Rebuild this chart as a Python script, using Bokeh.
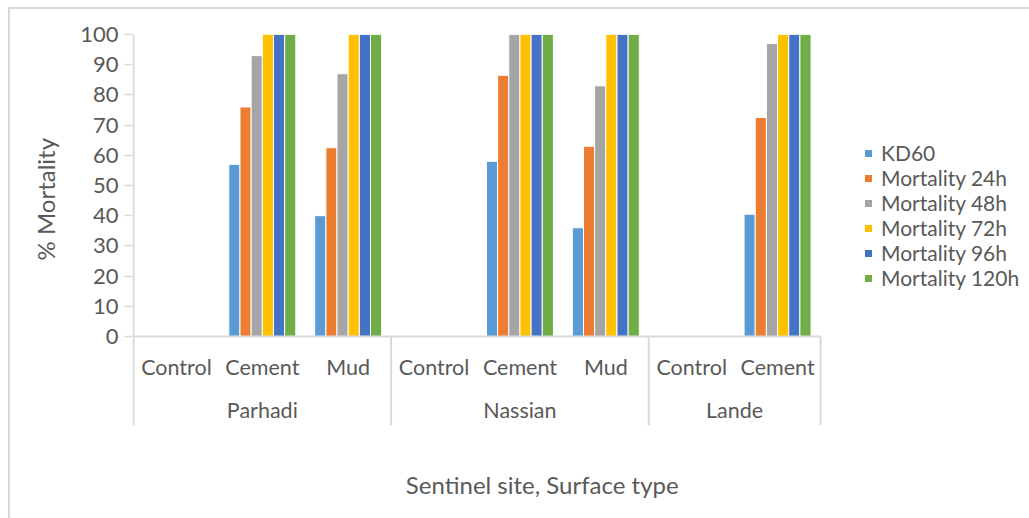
import math
from bokeh.plotting import figure
from bokeh.models import (ColumnDataSource, FixedTicker, Legend, LegendItem, Title,
                          Range1d)
from bokeh.layouts import column
from bokeh.core.properties import value
from bokeh.embed import file_html
from bokeh.resources import INLINE

# ---------------- data ----------------
sites = ["Parhadi", "Parhadi", "Parhadi", "Nassian", "Nassian", "Nassian", "Lande", "Lande"]
surfaces = ["Control", "Cement", "Mud", "Control", "Cement", "Mud", "Control", "Cement"]
site_names = ["Parhadi", "Nassian", "Lande"]
series_names = ["KD60", "Mortality 24h", "Mortality 48h", "Mortality 72h",
                "Mortality 96h", "Mortality 120h"]
kd60 = [0, 57, 40, 0, 58, 36, 0, 40.5]
mort24 = [0, 76, 62.5, 0, 86.5, 63, 0, 72.5]
mort48 = [0, 93, 87, 0, 100, 83, 0, 97]
mort72 = [0, 100, 100, 0, 100, 100, 0, 100]
mort96 = [0, 100, 100, 0, 100, 100, 0, 100]
mort120 = [0, 100, 100, 0, 100, 100, 0, 100]
y_ticks = [0, 10, 20, 30, 40, 50, 60, 70, 80, 90, 100]
x_title = "Sentinel site, Surface type"
y_title = "% Mortality"

series_values = [kd60, mort24, mort48, mort72, mort96, mort120]
colors = ["#5B9BD5", "#ED7D31", "#A5A5A5", "#FFC000", "#4472C4", "#70AD47"]

FONT = "Lato"
TXT = "#595959"
GRID = "#D9D9D9"

# layout (pixels, inside the bordered box)
W, H = 1019, 509
LEFT, TOP, RIGHT = 122, 25, 4
CAT_PX = 687           # pixel width of the category area
PX_PER_Y = 391 / 129.5  # vertical pixels per percentage point

n_cat = len(surfaces)
px_per_x = CAT_PX / n_cat
sep_bottom = -29.5                       # depth of the category label band
frame_w = W - LEFT - RIGHT
frame_h = H - TOP
x_start = -1 / px_per_x
x_end = x_start + frame_w / px_per_x
y_min = 100 - frame_h / PX_PER_Y

p = figure(width=W, height=H, output_backend="svg", toolbar_location=None,
           x_range=Range1d(x_start, x_end), y_range=Range1d(y_min, 100),
           min_border_left=LEFT, min_border_right=RIGHT, min_border_top=TOP,
           min_border_bottom=0, outline_line_color=None)
p.xgrid.visible = False
p.ygrid.visible = False
p.xaxis.visible = False

ya = p.yaxis[0]
ya.ticker = FixedTicker(ticks=y_ticks)
ya.minor_tick_line_color = None
ya.major_tick_in = 0
ya.major_tick_out = 8
ya.major_tick_line_color = GRID
ya.major_tick_line_width = 1.5
ya.axis_line_color = None
ya.major_label_text_font = FONT
ya.major_label_text_font_size = "22px"
ya.major_label_text_color = TXT
ya.major_label_standoff = 6

# bars
bar_w = 0.13
renderers = []
for j, (name, vals, col) in enumerate(zip(series_names, series_values, colors)):
    xs = [i + 0.5 + (j - 2.5) * bar_w for i in range(n_cat)]
    src = ColumnDataSource(dict(x=xs, top=vals))
    r = p.vbar(x="x", top="top", bottom=0, width=bar_w, source=src,
               fill_color=col, line_color="white", line_width=1)
    renderers.append(r)

# value axis line, category baseline and separators
p.segment(x0=[0], y0=[sep_bottom], x1=[0], y1=[100], line_color=GRID, line_width=2)
p.segment(x0=[0], y0=[0], x1=[n_cat], y1=[0], line_color=GRID, line_width=2)
bounds = []
for k in range(1, n_cat):
    if sites[k] != sites[k - 1]:
        bounds.append(k)
bounds.append(n_cat)
p.segment(x0=bounds, y0=[0] * len(bounds), x1=bounds, y1=[sep_bottom] * len(bounds),
          line_color=GRID, line_width=2)

# level-1 labels
p.text(x=[i + 0.5 for i in range(n_cat)], y=[-10] * n_cat, text=surfaces,
       text_font=value(FONT), text_font_size="21.5px", text_color=TXT,
       text_align="center", text_baseline="middle")
# level-2 labels
centers = []
for s in site_names:
    idx = [i for i, v in enumerate(sites) if v == s]
    centers.append(sum(idx) / len(idx) + 0.5)
p.text(x=centers, y=[-24.5] * len(centers), text=site_names,
       text_font=value(FONT), text_font_size="21.5px", text_color=TXT,
       text_align="center", text_baseline="middle")

# x-axis title (below the category band)
p.text(x=[4.76], y=[-49], text=[x_title],
       text_font=value(FONT), text_font_size="24px", text_color=TXT,
       text_align="center", text_baseline="middle")

# y-axis title
p.add_layout(Title(text=y_title, align="left", offset=258, standoff=35,
                   text_font=FONT, text_font_size="24px", text_color=TXT,
                   text_font_style="normal"), "left")

legend = Legend(items=[LegendItem(label=n, renderers=[r]) for n, r in zip(series_names, renderers)],
                location=(731, 228), margin=0, padding=0, spacing=0,
                border_line_color=None, background_fill_alpha=0,
                glyph_width=10, glyph_height=10, label_standoff=8,
                label_text_font=FONT, label_text_font_size="21px",
                label_text_color=TXT, label_height=20)
p.add_layout(legend)

layout = column(p, styles={"margin-left": "8px", "margin-top": "7px",
                           "border-left": "2px solid #D9D9D9",
                           "border-top": "2px solid #D9D9D9"})

open("out.html", "w").write(file_html(layout, INLINE))
